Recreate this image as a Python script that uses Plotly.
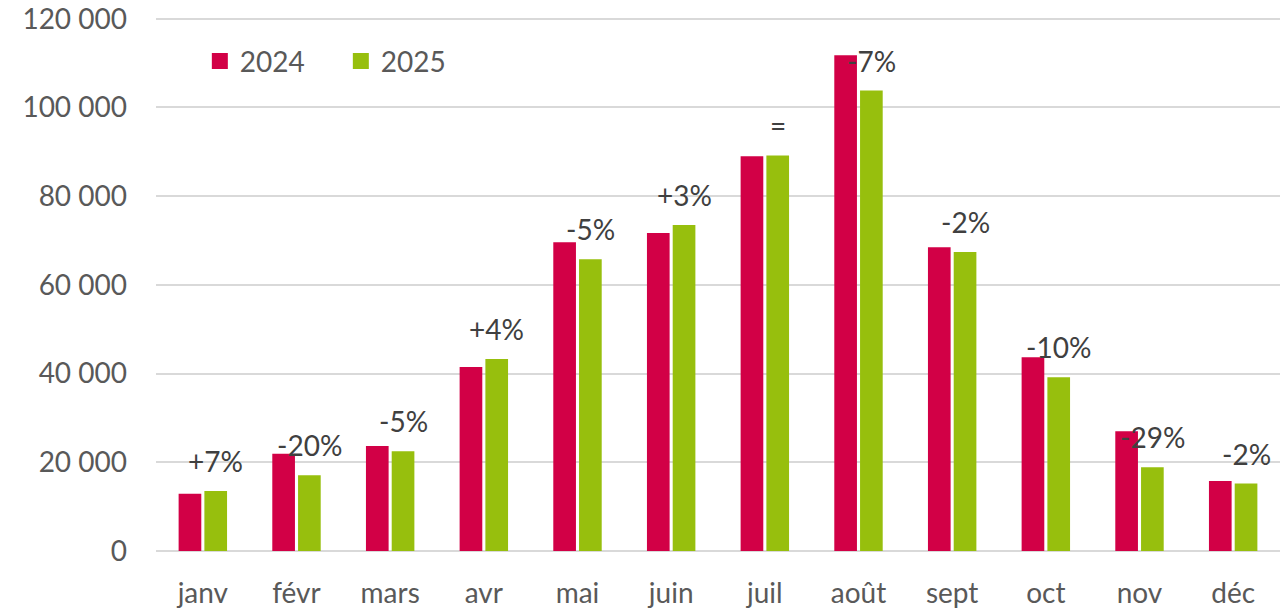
import plotly.graph_objects as go

months = ["janv", "févr", "mars", "avr", "mai", "juin", "juil", "août", "sept", "oct", "nov", "déc"]
v2024 = [12900, 21900, 23700, 41500, 69600, 71700, 89000, 111800, 68500, 43700, 27000, 15800]
v2025 = [13500, 17100, 22500, 43300, 65800, 73500, 89200, 103800, 67400, 39200, 18900, 15200]
changes = ["+7%", "-20%", "-5%", "+4%", "-5%", "+3%", "=", "-7%", "-2%", "-10%", "-29%", "-2%"]
yticks = [0, 20000, 40000, 60000, 80000, 100000, 120000]

C24 = "#D20046"
C25 = "#97BF0D"
FONT = "Lato"

fig = go.Figure()
fig.add_trace(go.Bar(x=months, y=v2024, name="2024", marker=dict(color=C24, line=dict(width=0)),
                     showlegend=False))
fig.add_trace(go.Bar(x=months, y=v2025, name="2025", marker=dict(color=C25, line=dict(width=0)),
                     showlegend=False))
# legend entries with larger squares
fig.add_trace(go.Scatter(x=[None], y=[None], mode="markers", name="2024",
                         marker=dict(symbol="square", size=16, color=C24)))
fig.add_trace(go.Scatter(x=[None], y=[None], mode="markers", name="2025",
                         marker=dict(symbol="square", size=16, color=C25)))

for m, v, t in zip(months, v2025, changes):
    fig.add_annotation(x=m, y=v, text=t, showarrow=False, xref="x", yref="y",
                       xanchor="center", yanchor="middle", xshift=13, yshift=30,
                       font=dict(family=FONT, size=28, color="#404040"))

fig.update_layout(
    width=1286, height=610,
    margin=dict(l=156, r=6, t=16.7, b=59, autoexpand=False),
    paper_bgcolor="white", plot_bgcolor="white",
    barmode="group", bargap=0.45, bargroupgap=0.12,
    separators=", ",
    font=dict(family=FONT, size=28, color="#595959"),
    legend=dict(orientation="h", x=0.039, y=0.917, xanchor="left", yanchor="middle",
                font=dict(family=FONT, size=28, color="#595959"),
                bgcolor="rgba(0,0,0,0)", itemwidth=30, tracegroupgap=0,
                entrywidth=96, entrywidthmode="pixels"),
    xaxis=dict(showgrid=False, showline=False, ticks="", ticklabelstandoff=23, automargin=False,
               tickfont=dict(family=FONT, size=28, color="#595959")),
    yaxis=dict(range=[0, 120400], tickvals=yticks, tickformat=",", showgrid=True,
               gridcolor="#D9D9D9", gridwidth=1.5, zeroline=True, zerolinecolor="#D9D9D9",
               zerolinewidth=1.5, showline=False, ticks="", ticklabelstandoff=28, automargin=False,
               ticklabeloverflow="allow",
               tickfont=dict(family=FONT, size=28, color="#595959")),
)

fig.write_html("out.html", config={"displayModeBar": False},
               post_script="document.body.style.margin='0px';")
